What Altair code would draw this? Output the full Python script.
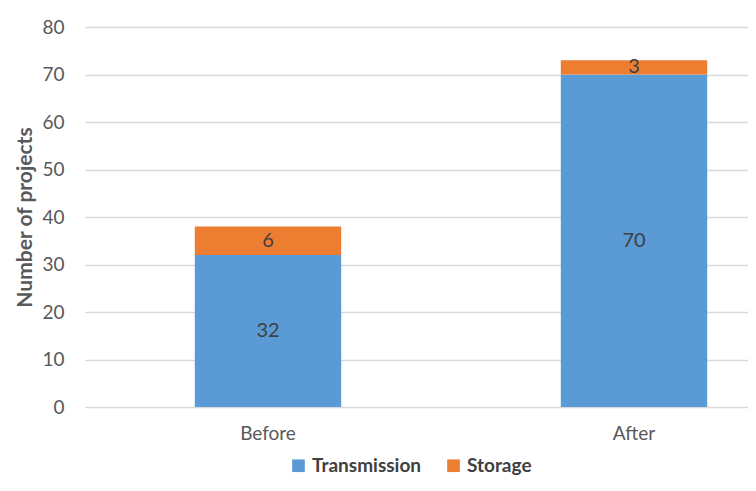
import altair as alt
import pandas as pd

categories = ["Before", "After"]
transmission = [32, 70]
storage = [6, 3]
series = ["Transmission", "Storage"]

rows = []
for i, c in enumerate(categories):
    rows.append({"period": c, "type": "Transmission", "value": transmission[i], "ord": 0})
    rows.append({"period": c, "type": "Storage", "value": storage[i], "ord": 1})
df = pd.DataFrame(rows)

FONT = "Lato"

base = alt.Chart(df).transform_stack(
    stack="value", groupby=["period"], as_=["y0", "y1"], sort=[alt.SortField("ord")]
).transform_calculate(mid="(datum.y0 + datum.y1) / 2")

x = alt.X("period:N", sort=categories, title=None,
          scale=alt.Scale(range=[0, 732], paddingInner=0.6, paddingOuter=0.3),
          axis=alt.Axis(labelAngle=0, ticks=False, domain=False, grid=False, labelFontSize=19,
                        labelColor="#595959", labelFont=FONT, labelPadding=17))

bars = base.mark_bar().encode(
    x=x,
    y=alt.Y("y0:Q", scale=alt.Scale(domain=[0, 80]), title="Number of projects",
            axis=alt.Axis(values=list(range(0, 81, 10)), ticks=False, domain=False,
                          gridColor="#D9D9D9", gridWidth=1.3, labelFontSize=19,
                          labelColor="#595959", labelFont=FONT, labelPadding=21,
                          titleFontSize=21, titleColor="#595959", titleFont=FONT,
                          titleFontWeight="bold", titlePadding=6)),
    y2="y1:Q",
    color=alt.Color("type:N", sort=series,
                    scale=alt.Scale(domain=series, range=["#5B9BD5", "#ED7D31"]),
                    legend=alt.Legend(orient="none", legendX=204, legendY=429,
                                      direction="horizontal", title=None, symbolType="square",
                                      symbolSize=160, labelFontSize=19, labelColor="#404040",
                                      labelFont=FONT, labelFontWeight="bold", labelOffset=4,
                                      columnPadding=22, symbolStrokeWidth=0)),
)

labels = base.mark_text(fontSize=20, color="#404040", font=FONT).encode(
    x=alt.X("period:N", sort=categories),
    y=alt.Y("mid:Q"),
    text="value:Q",
)

chart = (bars + labels).properties(
    width=663, height=380,
    autosize=alt.AutoSizeParams(type="none"),
    padding={"top": 19, "left": 77, "right": 0, "bottom": 69},
).configure_view(stroke=None)

chart.save("out.html", embed_options={"renderer": "svg", "actions": False})
